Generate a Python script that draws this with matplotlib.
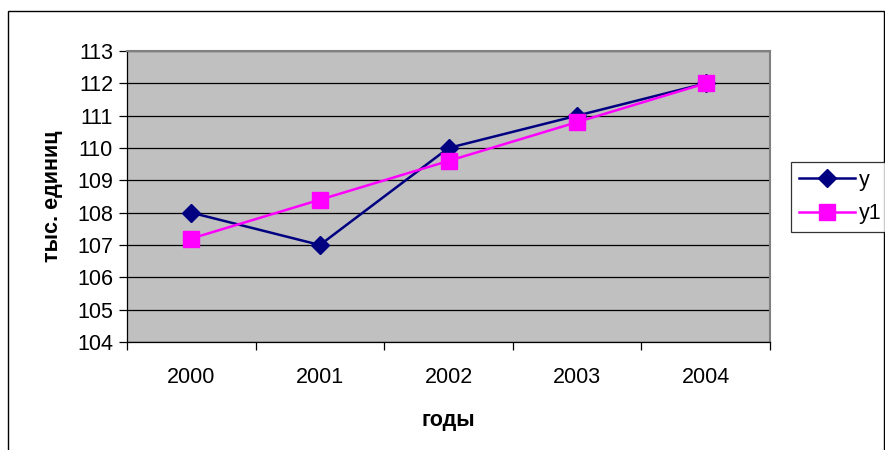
import matplotlib.pyplot as plt
from matplotlib.patches import Rectangle
from matplotlib.ticker import FixedLocator

plt.rcParams['font.family'] = ['Liberation Sans', 'DejaVu Sans']

years = ['2000', '2001', '2002', '2003', '2004']
y = [108, 107, 110, 111, 112]
y1 = [107.2, 108.4, 109.6, 110.8, 112.0]

fs = 15.5

fig = plt.figure(figsize=(8.85, 4.5), dpi=100)
ax = fig.add_axes([127/885, 1 - 342/450, (770 - 127)/885, (342 - 51)/450])

# outer chart border
fig.patches.append(Rectangle((8/885, -0.1), (884 - 8)/885, 1.1 - 11/450,
                             transform=fig.transFigure, fill=False,
                             edgecolor='black', linewidth=1.0))

ax.set_facecolor('#C0C0C0')
x = list(range(len(years)))
ax.plot(x, y, color='#000080', linewidth=1.8, marker='D', markersize=9,
        markerfacecolor='#000080', markeredgecolor='#000080', label='y')
ax.plot(x, y1, color='#FF00FF', linewidth=1.8, marker='s', markersize=11,
        markerfacecolor='#FF00FF', markeredgecolor='#FF00FF', label='y1')

ax.set_xlim(-0.5, len(years) - 0.5)
ax.set_ylim(104, 113)
ax.set_yticks(range(104, 114))
ax.yaxis.grid(True, color='black', linewidth=0.9)
ax.set_axisbelow(True)

ax.set_xticks(x)
ax.set_xticklabels(years, fontsize=fs)
ax.xaxis.set_minor_locator(FixedLocator([i - 0.5 for i in range(len(years) + 1)]))
ax.tick_params(axis='x', which='major', length=0, pad=18)
ax.tick_params(axis='x', which='minor', length=6, width=0.9, direction='out')
ax.tick_params(axis='y', length=6, width=0.9, direction='out', labelsize=fs, pad=4)

for s in ['top', 'right']:
    ax.spines[s].set_color('#808080')
    ax.spines[s].set_linewidth(1.5)
for s in ['left', 'bottom']:
    ax.spines[s].set_color('black')
    ax.spines[s].set_linewidth(0.9)

ax.set_xlabel('годы', fontsize=fs, fontweight='bold', labelpad=16)
ax.set_ylabel('тыс. единиц', fontsize=fs, fontweight='bold', labelpad=10)

leg = fig.legend(loc='upper left', bbox_to_anchor=(791/885, 1 - 162/450),
                 fontsize=fs, frameon=True, fancybox=False, edgecolor='black',
                 handlelength=2.6, borderaxespad=0, borderpad=0.35,
                 handletextpad=0.2, labelspacing=0.6)
leg.get_frame().set_linewidth(0.9)

fig.savefig('out.png', dpi=100)
